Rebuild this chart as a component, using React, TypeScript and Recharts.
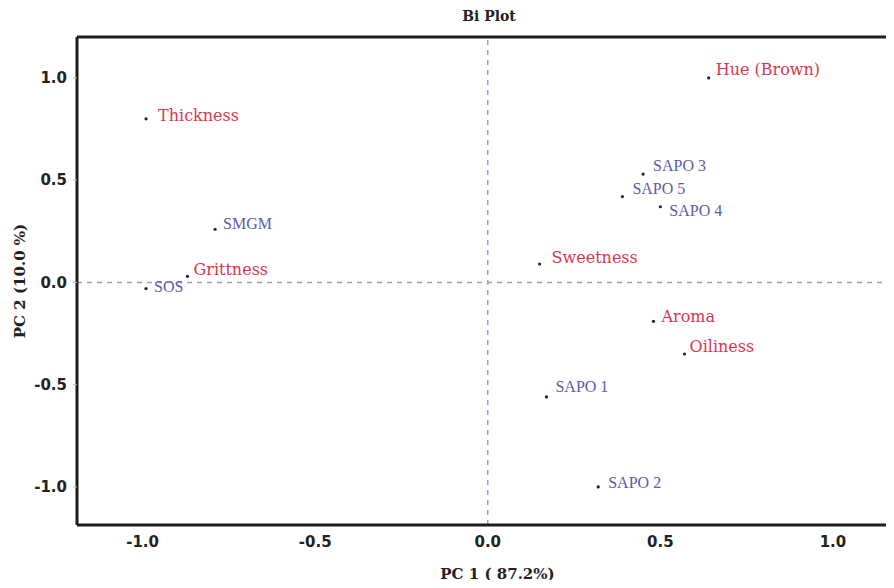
import { ScatterChart, Scatter, XAxis, YAxis, ReferenceLine, Label } from "recharts";

// variables (loadings) - red labels
const variableNames = ["Thickness", "Hue (Brown)", "Sweetness", "Grittness", "Aroma", "Oiliness"];
const variablePC1 = [-0.99, 0.64, 0.15, -0.87, 0.48, 0.57];
const variablePC2 = [0.8, 1.0, 0.09, 0.03, -0.19, -0.35];

// samples (scores) - blue labels
const sampleNames = ["SAPO 3", "SAPO 5", "SAPO 4", "SAPO 1", "SAPO 2", "SMGM", "SOS"];
const samplePC1 = [0.45, 0.39, 0.5, 0.17, 0.32, -0.79, -0.99];
const samplePC2 = [0.53, 0.42, 0.37, -0.56, -1.0, 0.26, -0.03];

const ticks = [-1.0, -0.5, 0.0, 0.5, 1.0];
const X_DOMAIN: [number, number] = [-1.19, 1.2];
const Y_DOMAIN: [number, number] = [-1.186, 1.2];

const variables = variableNames.map((name, i) => ({ name, x: variablePC1[i], y: variablePC2[i] }));
const samples = sampleNames.map((name, i) => ({ name, x: samplePC1[i], y: samplePC2[i] }));

const RED = "#e0344e";
const BLUE = "#5b5ba6";
const AXIS = "#1c1c1c";
const DASH = "#9a9ad6";

// label nudges (px) so the texts sit like in the original plot
const labelOffset: Record<string, [number, number]> = {
  Thickness: [12, -3],
  "Hue (Brown)": [7, -8],
  Sweetness: [12, -7],
  Grittness: [6, -7],
  Aroma: [8, -5],
  Oiliness: [5, -8],
  "SAPO 3": [10, -9],
  "SAPO 5": [10, -8],
  "SAPO 4": [9, 4],
  "SAPO 1": [9, -10],
  "SAPO 2": [10, -4],
  SMGM: [8, -6],
  SOS: [8, -2],
};

const makeShape = (color: string, font: string, size: number) => (props: any) => {
  const { cx, cy, payload } = props;
  const [dx, dy] = labelOffset[payload.name] ?? [9, -5];
  return (
    <g>
      <circle cx={cx} cy={cy} r={1.6} fill="#222" />
      <text
        x={cx + dx}
        y={cy + dy}
        fill={color}
        fontFamily={font}
        fontSize={size}
        dominantBaseline="central"
      >
        {payload.name}
      </text>
    </g>
  );
};

const tickStyle = { fontSize: 15, fontWeight: 700, fill: "#222", fontFamily: "DejaVu Sans" };

export default function App() {
  return (
    <div style={{ margin: -8, width: 894, height: 588, overflow: "hidden", background: "#fff" }}>
      <ScatterChart width={894} height={588} margin={{ top: 37, right: -8, left: 17, bottom: 33 }}>
        <text
          x={489}
          y={16}
          textAnchor="middle"
          dominantBaseline="central"
          fontFamily="DejaVu Serif"
          fontWeight={700}
          fontSize={14}
          fill="#222"
        >
          Bi Plot
        </text>
        <XAxis
          type="number"
          dataKey="x"
          domain={X_DOMAIN}
          ticks={ticks}
          allowDataOverflow
          tickFormatter={(v) => v.toFixed(1)}
          tick={tickStyle}
          tickLine={false}
          tickSize={0}
          tickMargin={11}
          height={30}
          axisLine={{ stroke: AXIS, strokeWidth: 3 }}
        >
          <Label
            value="PC 1 ( 87.2%)"
            position="insideBottom"
            offset={-24}
            dx={8}
            style={{ fontFamily: "DejaVu Serif", fontWeight: 700, fontSize: 15, fill: "#222" }}
          />
        </XAxis>
        <YAxis
          type="number"
          dataKey="y"
          domain={Y_DOMAIN}
          ticks={ticks}
          allowDataOverflow
          tickFormatter={(v) => v.toFixed(1)}
          tick={tickStyle}
          tickSize={4}
          tickMargin={6}
          tickLine={{ stroke: "#bbb" }}
          width={60}
          axisLine={{ stroke: AXIS, strokeWidth: 3 }}
        >
          <Label
            value="PC 2 (10.0 %)"
            angle={-90}
            position="insideLeft"
            offset={3}
            style={{ fontFamily: "DejaVu Serif", fontWeight: 700, fontSize: 15, fill: "#222", textAnchor: "middle" }}
          />
        </YAxis>
        <ReferenceLine y={Y_DOMAIN[1]} stroke={AXIS} strokeWidth={3} />
        <ReferenceLine x={0} stroke={DASH} strokeDasharray="5 5" strokeWidth={1.5} />
        <ReferenceLine y={0} stroke={DASH} strokeDasharray="5 5" strokeWidth={1.5} />
        <Scatter
          name="Variables"
          data={variables}
          shape={makeShape(RED, "DejaVu Serif", 16)}
          isAnimationActive={false}
        />
        <Scatter
          name="Samples"
          data={samples}
          shape={makeShape(BLUE, "Liberation Serif", 16)}
          isAnimationActive={false}
        />
      </ScatterChart>
    </div>
  );
}
